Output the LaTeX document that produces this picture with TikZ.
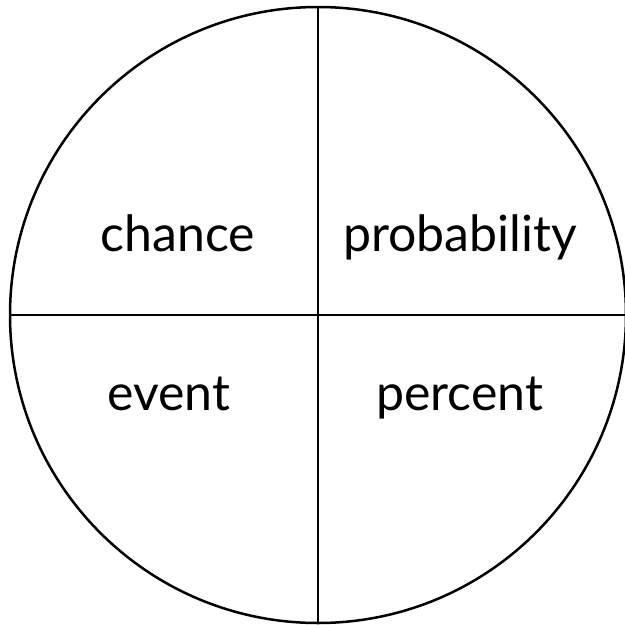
\documentclass[tikz,border=0pt]{standalone}
\usepackage{fontspec}
\setmainfont{Lato}
\begin{document}
\begin{tikzpicture}[x=1pt,y=-1pt,
  lbl/.style={anchor=base,inner sep=0pt,font=\fontsize{50}{60}\selectfont},
  ln/.style={line width=2.5pt,black}]
\useasboundingbox (0,0) rectangle (625,625);
\coordinate (c) at (318,315);
\draw[ln] (c) circle[radius=308];
\coordinate (t) at (318,7);
\coordinate (b) at (318,623);
\coordinate (l) at (10,315);
\coordinate (r) at (626,315);
\draw[ln] (t) -- (b);
\draw[ln] (l) -- (r);
\node[lbl] (chance) at (178,251) {chance};
\node[lbl] (prob) at (460,251) {probability};
\node[lbl] (event) at (169,410) {event};
\node[lbl] (percent) at (459.5,410) {percent};
\end{tikzpicture}
\end{document}
